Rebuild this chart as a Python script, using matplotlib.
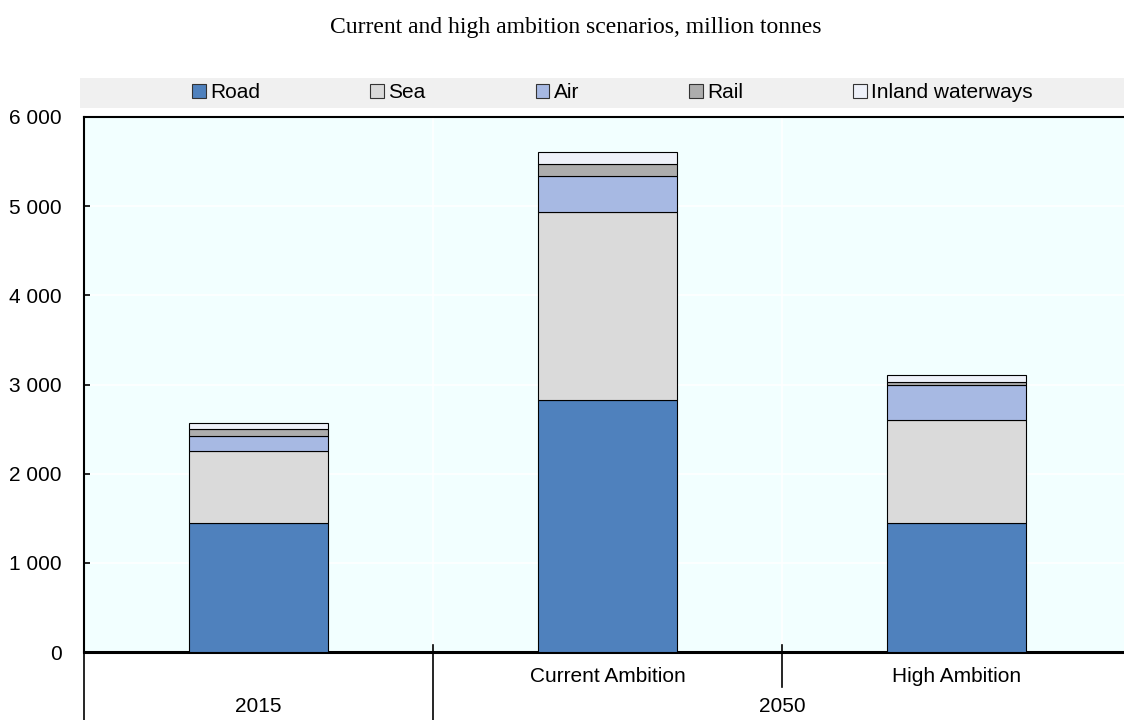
import numpy as np
import matplotlib
matplotlib.use("Agg")
import matplotlib.pyplot as plt
from matplotlib.patches import Rectangle, Patch
import matplotlib.transforms as mtransforms

# data (million tonnes)
scenarios = ["2015", "Current Ambition", "High Ambition"]
sub_labels = ["", "Current Ambition", "High Ambition"]
modes = ["Road", "Sea", "Air", "Rail", "Inland waterways"]
road = [1450, 2830, 1450]
sea = [800, 2100, 1156]
air = [176, 404, 392]
rail = [80, 136, 32]
inland = [64, 140, 80]
colors = ["#4f81bd", "#dadada", "#a7b9e3", "#adadad", "#eef1f9"]

plt.rcParams['font.family'] = ['Liberation Sans', 'DejaVu Sans']
FS = 15

fig = plt.figure(figsize=(11.24, 7.2), dpi=100)
ax = fig.add_axes([84/1124, 1-652/720, 1-84/1124, 535/720])
ax.set_facecolor("#f2ffff")

x = np.arange(len(scenarios))
bottom = np.zeros(len(scenarios))
for name, vals, c in zip(modes, [road, sea, air, rail, inland], colors):
    ax.bar(x, vals, 0.4, bottom=bottom, color=c, edgecolor="black", linewidth=0.8, label=name, zorder=3)
    bottom += np.array(vals)

ax.set_ylim(0, 6000)
ax.set_xlim(-0.5, -0.5 + 1040/349)
ax.set_yticks(range(0, 6001, 1000))
ax.set_yticklabels([f"{v:,}".replace(",", " ") for v in range(0, 6001, 1000)], fontsize=FS)
ax.yaxis.grid(True, color="white", linewidth=1.2, zorder=0)
for xv in [0.5, 1.5]:
    ax.axvline(xv, color="white", linewidth=1.2, zorder=0)
ax.tick_params(axis="y", length=4, width=1.2, direction="in", pad=16)

ax.set_xticks(x)
ax.set_xticklabels(sub_labels, fontsize=FS)
ax.tick_params(axis="x", length=0, pad=11)

for s in ["left", "top"]:
    ax.spines[s].set_linewidth(1.5)
ax.spines["bottom"].set_linewidth(2.2)
ax.spines["right"].set_visible(False)

# group separators and labels under the axis
tr = mtransforms.blended_transform_factory(ax.transData, ax.transAxes)
for xv, y0, y1 in [(-0.5, 0, -0.13), (0.5, 0.013, -0.13), (1.5, 0.013, -0.065)]:
    ax.plot([xv, xv], [y0, y1], color="black", linewidth=1.2, transform=tr, clip_on=False)
ax.text(0, -0.101, "2015", transform=tr, ha="center", va="center", fontsize=FS)
ax.text(1.5, -0.101, "2050", transform=tr, ha="center", va="center", fontsize=FS)

# legend band
fig.patches.append(Rectangle((80/1124, 1-108/720), 1, 30/720, transform=fig.transFigure,
                             facecolor="#f0f0f0", edgecolor="none", zorder=0))
handles = [Patch(facecolor=c, edgecolor="#333333", linewidth=0.8) for c in colors]
fig.legend(handles, modes, loc="center", bbox_to_anchor=(0.545, 1-93/720), ncol=5,
           frameon=False, fontsize=FS, handlelength=0.65, handleheight=0.65,
           handletextpad=0.2, columnspacing=5.3)

fig.text(576/1124, 1-27/720, "Current and high ambition scenarios, million tonnes",
         ha="center", va="center", fontsize=17, family="Liberation Serif")

fig.savefig("out.png", dpi=100)
